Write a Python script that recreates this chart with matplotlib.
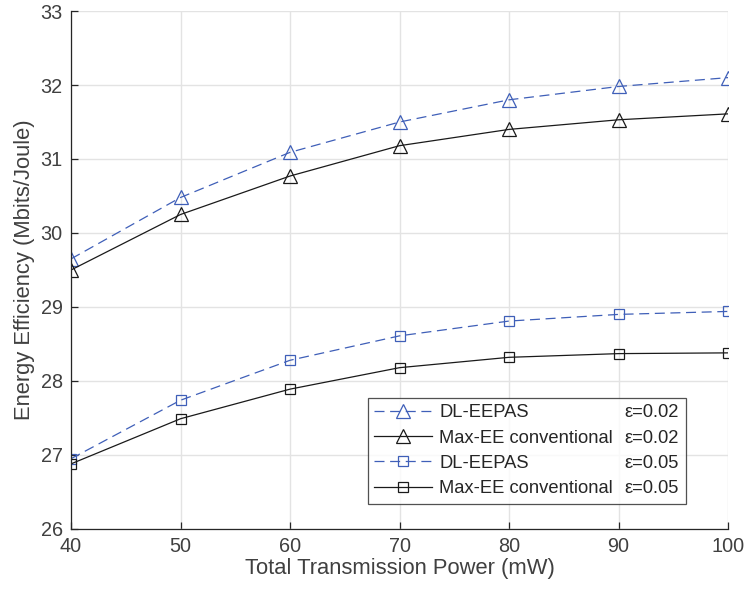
import matplotlib.pyplot as plt
from matplotlib.lines import Line2D

plt.rcParams['font.family'] = ['Liberation Sans', 'DejaVu Sans']

# Total transmission power (mW)
power = [40, 50, 60, 70, 80, 90, 100]

# Energy efficiency (Mbits/Joule)
dl_eepas_002 = [29.65, 30.48, 31.09, 31.50, 31.80, 31.98, 32.10]
maxee_002 = [29.50, 30.25, 30.77, 31.18, 31.40, 31.53, 31.61]
dl_eepas_005 = [26.95, 27.74, 28.28, 28.61, 28.81, 28.90, 28.94]
maxee_005 = [26.88, 27.49, 27.89, 28.18, 28.32, 28.37, 28.38]

names = ["DL-EEPAS", "Max-EE conventional", "DL-EEPAS", "Max-EE conventional"]
eps_labels = ["\u03b5=0.02", "\u03b5=0.02", "\u03b5=0.05", "\u03b5=0.05"]

blue = '#3f5fb8'
black = '#1a1a1a'
axcol = '#262626'
txtcol = '#404040'
dashed = (0, (8, 4.5))

fig = plt.figure(figsize=(7.46, 5.98), dpi=100)
ax = fig.add_axes([0.0952, 0.1154, 0.976 - 0.0952, 0.9816 - 0.1154])

series = [
    (dl_eepas_002, blue, dashed, '^', 10),
    (maxee_002, black, '-', '^', 10),
    (dl_eepas_005, blue, dashed, 's', 7.5),
    (maxee_005, black, '-', 's', 7.5),
]
handles = []
for (vals, col, ls, mk, ms), name in zip(series, names):
    h, = ax.plot(power, vals, color=col, linestyle=ls, linewidth=0.9,
                 marker=mk, markersize=ms, markerfacecolor='none',
                 markeredgecolor=col, markeredgewidth=0.9, label=name)
    handles.append(h)

ax.set_xlim(40, 100)
ax.set_ylim(26, 33)
ax.set_xticks(range(40, 101, 10))
ax.set_yticks(range(26, 34))
ax.grid(True, color='#e3e3e3', linewidth=1.0)
ax.set_axisbelow(True)
for side in ('top', 'right'):
    ax.spines[side].set_visible(False)
for side in ('left', 'bottom'):
    ax.spines[side].set_color(axcol)
    ax.spines[side].set_linewidth(0.9)
ax.tick_params(direction='in', length=5, width=0.9, color=axcol,
               labelcolor=txtcol, labelsize=14.3, pad=6)

ax.set_xlabel("Total Transmission Power (mW)", fontsize=15.8, color=txtcol, labelpad=1)
ax.set_ylabel("Energy Efficiency (Mbits/Joule)", fontsize=15.8, color=txtcol, labelpad=4)

# second legend column holds the epsilon values with blank handles;
# negative column spacing pulls it back over the empty handle slot
blank = [Line2D([], [], linestyle='none', marker='none') for _ in eps_labels]
hlen, hpad = 3.15, 0.38
leg = ax.legend(handles=handles + blank, labels=names + eps_labels, ncol=2,
                loc='upper left', bbox_to_anchor=(0.452, 0.2529),
                fontsize=13.2, frameon=True, fancybox=False,
                handlelength=hlen, handletextpad=hpad, borderpad=0.35,
                labelspacing=0.45, columnspacing=-(hlen + hpad) + 0.65,
                borderaxespad=0)
leg.get_frame().set_edgecolor('#262626')
leg.get_frame().set_linewidth(0.9)
for t in leg.get_texts():
    t.set_color('#262626')

fig.savefig('out.png', dpi=100)
